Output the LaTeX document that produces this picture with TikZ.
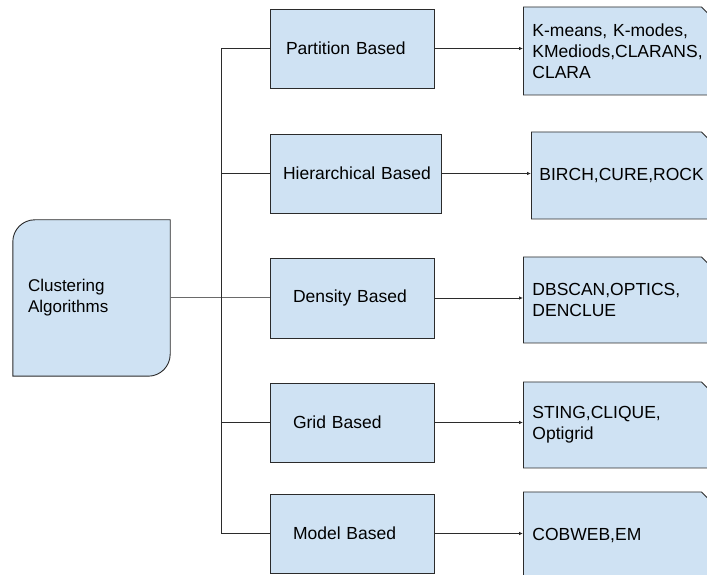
\documentclass[tikz,border=0pt]{standalone}
\usepackage{fontspec}
\setmainfont{Liberation Sans}
\usetikzlibrary{arrows.meta,shapes.misc,backgrounds}
\definecolor{vaaleansininen}{HTML}{CFE2F3}
\definecolor{reuna}{HTML}{2B2B2B}
\definecolor{harmaa}{HTML}{6A6A6A}

\begin{document}
\begin{tikzpicture}[x=1pt,y=1pt,
		midbox/.style={draw=reuna,fill=vaaleansininen,line width=0.9pt,align=left,minimum height=79pt,font=\fontsize{17.5}{21}\selectfont},
		algbox/.style={chamfered rectangle,chamfered rectangle corners=north east,chamfered rectangle xsep=4pt,chamfered rectangle ysep=4pt,
			draw=reuna,fill=vaaleansininen,line width=0.9pt,align=left,inner xsep=5pt,text width=168pt,anchor=west,font=\fontsize{17.5}{21}\selectfont},
		yhteys/.style={draw=reuna,line width=0.8pt},
		nuoli/.style={yhteys,-{Latex[length=4pt,width=3.5pt]}}]
				\useasboundingbox (0,0) rectangle (707,575);
				\clip (0,0) rectangle (707,575);
				% juurisolmu
				\node[align=left,inner xsep=15pt,text width=127pt,minimum height=156pt,font=\fontsize{17}{21}\selectfont] (clu) at (91.5,277) {Clustering\\Algorithms};
				\begin{scope}[on background layer]
				\fill[white] (0,0) rectangle (707,575);
				\draw[draw=reuna,fill=vaaleansininen,line width=0.9pt] (clu.south west) -- ([yshift=-22pt]clu.north west) arc[start angle=180,end angle=90,radius=22pt] -- (clu.north east) -- ([yshift=22pt]clu.south east) arc[start angle=0,end angle=-90,radius=22pt] -- cycle;
				\end{scope}
				% menetelmaryhmat
				\node[midbox,inner xsep=16pt,text width=132pt] (part) at (352,526.5) {Partition~Based};
				\node[midbox,inner xsep=13pt,text width=145pt] (hier) at (355.5,401.5) {Hierarchical~Based};
				\node[midbox,inner xsep=23pt,text width=118pt,minimum height=80pt] (dens) at (352,277) {Density~Based};
				\node[midbox,inner xsep=23pt,text width=118pt] (grid) at (352,152.5) {Grid~Based};
				\node[midbox,inner xsep=23pt,text width=118pt] (model) at (352,41.5) {Model~Based};
				% algoritmit
				\node[algbox,minimum height=88pt] (rpart) at (523,524) {K-means, K-modes,\\KMediods,CLARANS,\\CLARA};
				\node[algbox,minimum height=87pt,inner xsep=4pt,text width=162pt] (rhier) at (531,399.5) {BIRCH,CURE,ROCK};
				\node[algbox,minimum height=86pt] (rdens) at (523,275) {DBSCAN,OPTICS,\\DENCLUE};
				\node[algbox,minimum height=86pt] (rgrid) at (523,150) {STING,CLIQUE,\\Optigrid};
				\node[algbox,minimum height=88pt] (rmodel) at (523,39) {COBWEB,EM};
				% runko
				\coordinate (trunk) at (221,0);
				\draw[yhteys,draw=harmaa,line width=1pt] (clu.east) -- (dens.west);
				\draw[yhteys] (part.west) -- (part.west -| trunk) -- (model.west -| trunk) -- (model.west);
				\draw[yhteys] (hier.west -| trunk) -- (hier.west);
				\draw[yhteys] (grid.west -| trunk) -- (grid.west);
				\draw[nuoli] (part.east) -- (part.east -| rpart.west);
				\draw[nuoli] (hier.east) -- (hier.east -| rhier.west);
				\draw[nuoli] (dens.east) -- (dens.east -| rdens.west);
				\draw[nuoli] (grid.east) -- (grid.east -| rgrid.west);
				\draw[nuoli] (model.east) -- (model.east -| rmodel.west);
			\end{tikzpicture}
\end{document}
